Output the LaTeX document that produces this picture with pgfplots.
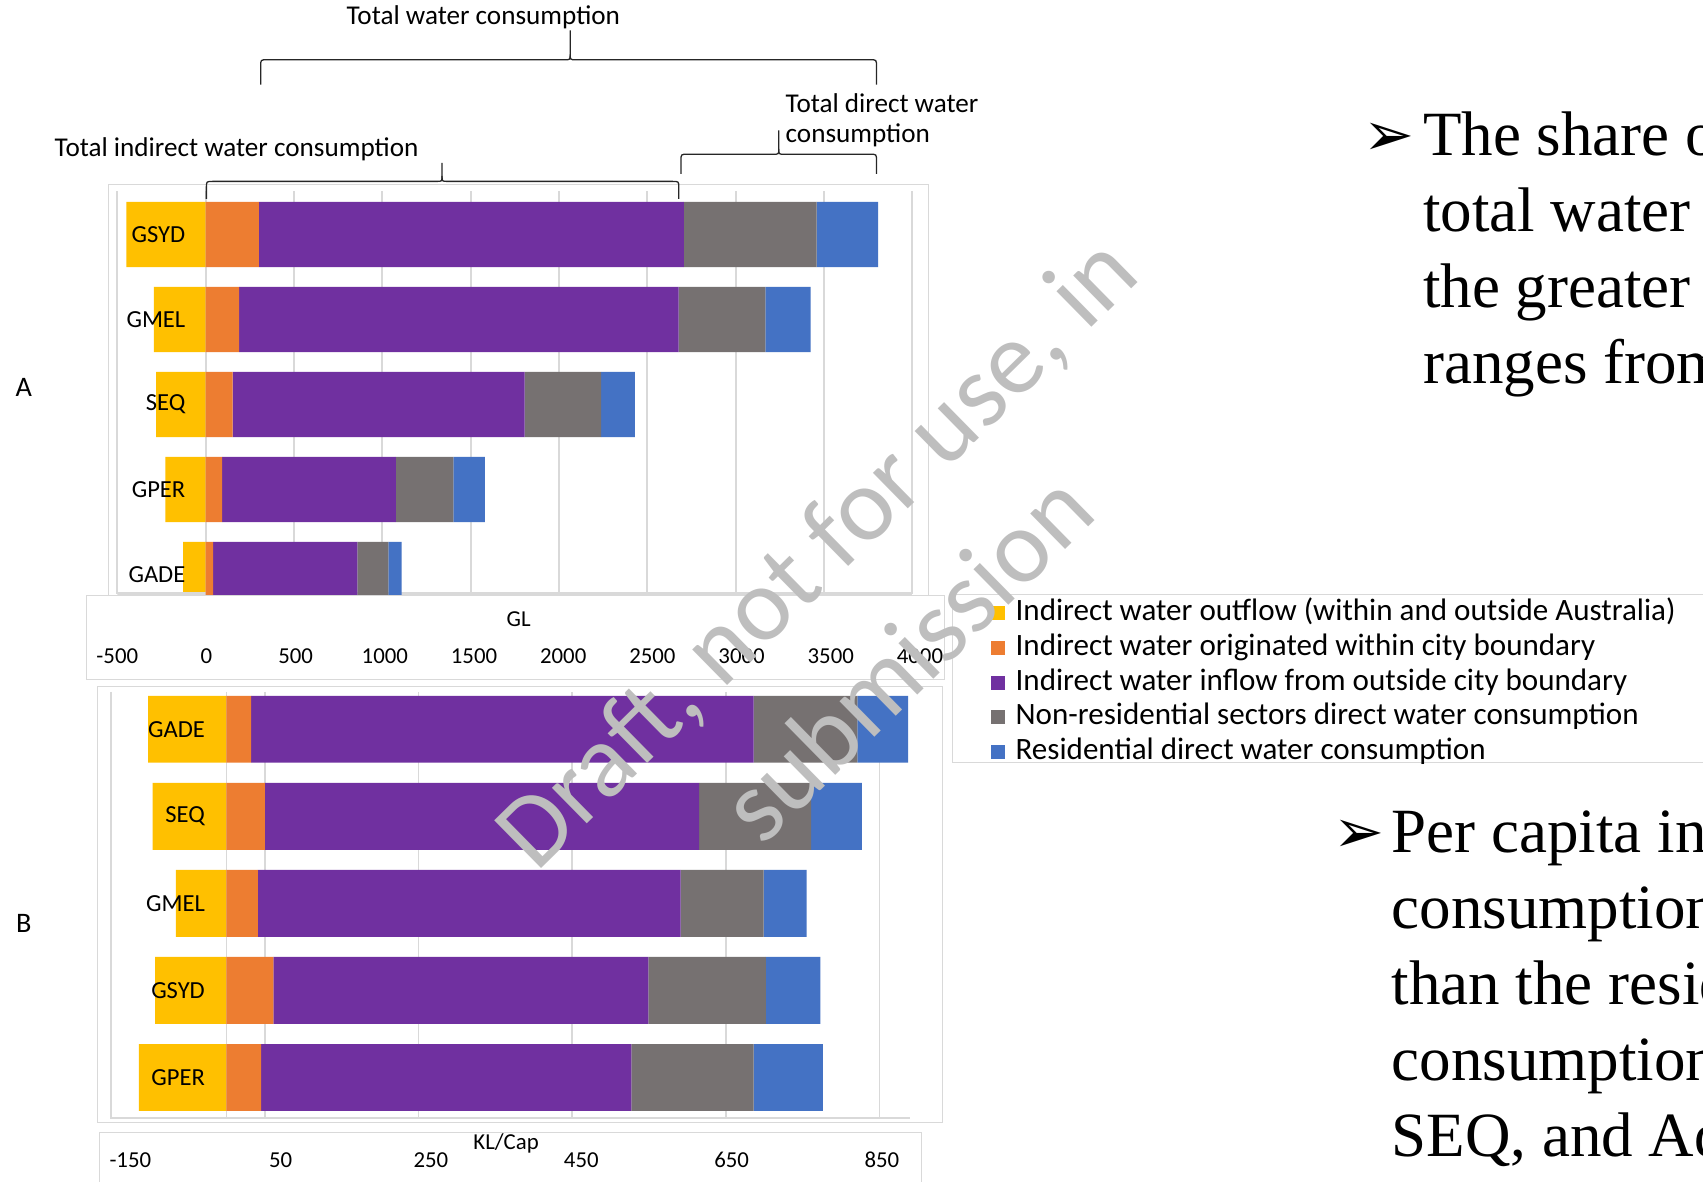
\documentclass[border=0pt]{standalone}
\usepackage{fontspec}
\setmainfont{Carlito}
\newfontfamily\serifbody{Liberation Serif}
\newfontfamily\symfont{DejaVu Sans}
\usepackage{pgfplots}
\usepackage{pgfplotstable}
\pgfplotsset{compat=1.18}

\definecolor{cOut}{HTML}{FFC000}
\definecolor{cWithin}{HTML}{ED7D31}
\definecolor{cInflow}{HTML}{7030A0}
\definecolor{cNonres}{HTML}{767171}
\definecolor{cRes}{HTML}{4472C4}
\definecolor{gridgray}{HTML}{D9D9D9}
\definecolor{wmgray}{RGB}{190,190,190}

% A: total water consumption by city (GL)
\pgfplotstableread{
idx out within inflow nonres res
0 -449 302 2405 751 348
1 -293 189 2488 491 257
2 -280 153 1652 433 192
3 -228  94  983 325 179
4 -127  42  817 175  75
}\tblA

% B: per capita water consumption by city (KL/Cap)
\pgfplotstableread{
idx out within inflow nonres res
0 -102 32 654 135 66
1  -96 50 565 146 66
2  -66 41 550 108 56
3  -93 61 488 153 71
4 -114 45 482 159 90
}\tblB

\pgfplotsset{
  barbase/.style={
    scale only axis, y dir=reverse, ytick={0,1,2,3,4}, yticklabels={},
    xticklabels={}, axis line style={draw=none}, tick style={draw=none},
    grid style={gridgray, line width=0.8pt},
  },
  chartA/.style={barbase, width=366pt, height=185.5pt,
    xmin=-500, xmax=4000, ymin=-0.51, ymax=4.23,
    xtick={-500,0,...,4000}, bar width=0.767,
    at={(54pt,-273.5pt)}, anchor=south west},
  chartB/.style={barbase, width=367.9pt, height=196.5pt,
    xmin=-150, xmax=890, ymin=-0.43, ymax=4.474,
    xtick={-150,50,...,850}, bar width=0.768,
    at={(51.2pt,-515pt)}, anchor=south west},
  catlabels/.style={yticklabel style={anchor=east, inner sep=0pt,
    xshift=#1, font=\fontsize{11.3}{13}\selectfont}},
  scalebox/.style={scale only axis, height=1pt, ymin=0, ymax=1, ytick=\empty,
    axis line style={draw=none}, tick style={draw=none},
    xticklabel style={anchor=center, inner sep=0pt, font=\fontsize{10.5}{12}\selectfont},
    xlabel style={at={(axis description cs:0.5,0)}, anchor=center, font=\fontsize{10.5}{12}\selectfont}},
}

\newcommand{\curly}[6]{% x1, x2, end y, line y, tip x, tip top y
  \draw[black!85, line width=0.6pt] (#1,#3) -- (#1,#4+6) .. controls (#1,#4) .. (#1+6,#4)
     -- (#5-5,#4) .. controls (#5,#4) .. (#5,#4-5) -- (#5,#6);
  \draw[black!85, line width=0.6pt] (#2,#3) -- (#2,#4+6) .. controls (#2,#4) .. (#2-6,#4)
     -- (#5+5,#4) .. controls (#5,#4) .. (#5,#4-5);
}

\begin{document}
\begin{tikzpicture}
\useasboundingbox (0,0) rectangle (784pt,-544pt);
\clip (0,0) rectangle (784pt,-544pt);

% panel frames
\begin{scope}[x=0.5pt,y=-0.5pt]
  \draw[gridgray, fill=white] (100,170) rectangle (855,548);
  \draw[gridgray, fill=white] (80,548) rectangle (870,626);
  \draw[gridgray, fill=white] (90,632) rectangle (868,1033);
  \draw[gridgray, fill=white] (92,1043) rectangle (848,1110);
  \draw[gridgray, fill=white] (877,547) rectangle (1600,702);
\end{scope}

% ---------- A ----------
\begin{axis}[chartA, xbar, xmajorgrids]
  \addplot[fill=cOut, draw=none, bar shift=0pt] table[x=out, y=idx] {\tblA};
  \draw[gridgray, line width=1.5pt] (axis description cs:0,0) -- (axis description cs:1,0);
\end{axis}
\begin{axis}[chartA, xbar stacked, catlabels=31.5pt,
    yticklabels={GSYD,GMEL,SEQ,GPER,GADE},
    legend style={at={(axis description cs:1.098,-0.011)}, anchor=north west,
      draw=none, fill=none, font=\fontsize{14.3}{16}\selectfont, row sep=3pt,
      inner sep=0pt, nodes={inner sep=0pt, text height=10pt, text depth=3pt},
      /tikz/every odd column/.append style={column sep=5pt}},
    legend cell align=left,
    legend image code/.code={\fill[#1] (0pt,-3.25pt) rectangle (6.5pt,3.25pt);}]
  \addlegendimage{fill=cOut, draw=none}
  \addlegendentry{Indirect water outflow (within and outside Australia)}
  \addplot[fill=cWithin, draw=none] table[x=within, y=idx] {\tblA};
  \addlegendentry{Indirect water originated within city boundary}
  \addplot[fill=cInflow, draw=none] table[x=inflow, y=idx] {\tblA};
  \addlegendentry{Indirect water inflow from outside city boundary}
  \addplot[fill=cNonres, draw=none] table[x=nonres, y=idx] {\tblA};
  \addlegendentry{Non-residential sectors direct water consumption}
  \addplot[fill=cRes, draw=none] table[x=res, y=idx] {\tblA};
  \addlegendentry{Residential direct water consumption}
\end{axis}
\begin{axis}[scalebox, at={(54pt,-302pt)}, anchor=south west, width=369.5pt,
    xmin=-500, xmax=4000, xtick={-500,0,...,4000},
    xticklabels={-500,0,500,1000,1500,2000,2500,3000,3500,4000},
    xlabel={GL}, xlabel style={yshift=17pt}]
\end{axis}

% ---------- B ----------
\begin{axis}[chartB, xbar, xmajorgrids, extra x ticks={0}, extra x tick labels={},
    extra x tick style={grid=major}]
  \addplot[fill=cOut, draw=none, bar shift=0pt] table[x=out, y=idx] {\tblB};
  \draw[gridgray, line width=1.5pt] (axis description cs:0,0) -- (axis description cs:1,0);
\end{axis}
\begin{axis}[chartB, xbar stacked, catlabels=43.3pt,
    yticklabels={GADE,SEQ,GMEL,GSYD,GPER}]
  \addplot[fill=cWithin, draw=none] table[x=within, y=idx] {\tblB};
  \addplot[fill=cInflow, draw=none] table[x=inflow, y=idx] {\tblB};
  \addplot[fill=cNonres, draw=none] table[x=nonres, y=idx] {\tblB};
  \addplot[fill=cRes, draw=none] table[x=res, y=idx] {\tblB};
\end{axis}
\begin{axis}[scalebox, at={(60pt,-534pt)}, anchor=south west, width=346pt,
    xmin=-150, xmax=850, xtick={-150,50,...,850},
    xticklabels={-150,50,250,450,650,850},
    xlabel={KL/Cap}, xlabel style={yshift=7.5pt}]
\end{axis}

\begin{scope}[x=0.5pt,y=-0.5pt]
  % braces over panel A
  \curly{240}{807}{78}{55}{525}{28}
  \curly{190}{625}{183}{167}{407}{150}
  \curly{627}{807}{160}{142}{717}{120}
  \node[font=\fontsize{12.5}{14}\selectfont] at (445,16) {Total water consumption};
  \node[anchor=west, inner sep=0pt, font=\fontsize{12.5}{14}\selectfont] at (50,137) {Total indirect water consumption};
  \node[anchor=west, inner sep=0pt, font=\fontsize{12.5}{14}\selectfont] at (723,95) {Total direct water};
  \node[anchor=west, inner sep=0pt, font=\fontsize{12.5}{14}\selectfont] at (723,125) {consumption};
  % panel letters
  \node[font=\fontsize{13}{15}\selectfont] at (22,357) {A};
  \node[font=\fontsize{13}{15}\selectfont] at (22,850) {B};

  % slide text
  \node[anchor=base west, inner sep=0pt, font=\symfont\fontsize{28}{30}\selectfont] at (1255,143) {➢};
  \begin{scope}[every node/.style={anchor=base west, inner sep=0pt, font=\serifbody\fontsize{29}{35}\selectfont}]
    \node at (1310,143) {The share of};
    \node at (1310,213) {total water};
    \node at (1310,283) {the greater};
    \node at (1310,353) {ranges from};
    \node at (1281,785) {Per capita indirect};
    \node at (1281,855) {consumption};
    \node at (1281,925) {than the residential};
    \node at (1281,995) {consumption};
    \node at (1281,1065) {SEQ, and Adelaide};
  \end{scope}
  \node[anchor=base west, inner sep=0pt, font=\symfont\fontsize{28}{30}\selectfont] at (1227,785) {➢};

  % draft stamp
  \node[wmgray, rotate=44.5, anchor=base, inner sep=0pt, font=\fontsize{48}{56}\selectfont] at (773,530) {Draft, not for use, in};
  \node[wmgray, rotate=44.5, anchor=base, inner sep=0pt, font=\fontsize{48}{56}\selectfont] at (857,628) {submission};
\end{scope}
\end{tikzpicture}
\end{document}
